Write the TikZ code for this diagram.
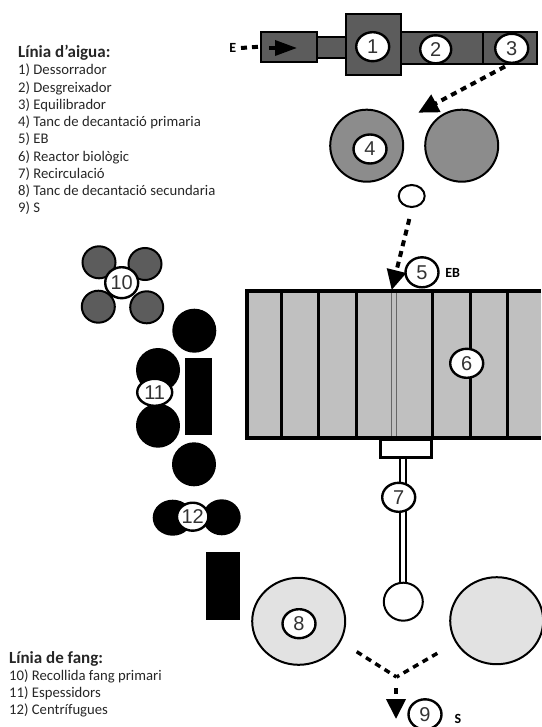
\documentclass[tikz,border=0pt]{standalone}
\usepackage{fontspec}
\setmainfont{Carlito}
\newfontfamily\numfont{Liberation Sans}
\usetikzlibrary{shapes.geometric,arrows.meta}
\definecolor{darkbox}{HTML}{5C5C5C}
\definecolor{midtank}{HTML}{8C8C8C}
\definecolor{reactor}{HTML}{C0C0C0}
\definecolor{lighttank}{HTML}{E2E2E2}
\definecolor{numgray}{HTML}{333333}
\tikzset{
  blockbox/.style={draw=black,line width=2pt,fill=darkbox},
  tag/.style={ellipse,draw=black,line width=2.4pt,fill=white,inner sep=0pt,minimum width=33pt,minimum height=29pt,text=numgray,font=\numfont\fontsize{20}{20}\selectfont},
  tanktwo/.style={ellipse,draw=black,line width=2pt,fill=midtank,minimum width=73pt,minimum height=72pt,inner sep=0pt},
  tanklight/.style={ellipse,draw=black,line width=2pt,fill=lighttank,minimum width=93pt,minimum height=87pt,inner sep=0pt},
  sludge/.style={ellipse,draw=black,line width=2pt,fill=darkbox,minimum width=33pt,minimum height=32pt,inner sep=0pt},
  thick black/.style={circle,fill=black,minimum size=44pt,inner sep=0pt},
  flow/.style={line width=4pt,dash pattern=on 6pt off 5pt,-{Triangle[length=20pt,width=19pt]}},
  flowplain/.style={line width=3.5pt,dash pattern=on 6pt off 5pt},
  divider/.style={line width=3pt,draw=black},
  legend/.style={anchor=north west,align=left,inner sep=0pt,font=\fontsize{14.7}{17.25}\selectfont,text=black!85},
  flowlabel/.style={font=\bfseries\fontsize{14}{14}\selectfont}
}
\begin{document}
\begin{tikzpicture}[x=1pt,y=-1pt]
\useasboundingbox (0,0) rectangle (541,727);
% legends
\node[legend] (legwater) at (18,45) {{\bfseries\fontsize{17}{17.25}\selectfont Línia d'aigua:}\\
1) Dessorrador\\2) Desgreixador\\3) Equilibrador\\4) Tanc de decantació primaria\\5) EB\\6) Reactor biològic\\7) Recirculació\\8) Tanc de decantació secundaria\\9) S};
\node[legend] (legsludge) at (9,651) {{\bfseries\fontsize{17}{17.25}\selectfont Línia de fang:}\\
10) Recollida fang primari\\11) Espessidors\\12) Centrífugues};
% pretreatment line
\node[blockbox,minimum width=56.5pt,minimum height=30pt,inner sep=0pt] (inlet) at (289,46.7) {};
\node[blockbox,minimum width=29pt,minimum height=20.5pt,inner sep=0pt] (neck) at (331.7,47.7) {};
\node[blockbox,minimum width=82pt,minimum height=32.3pt,inner sep=0pt] (b2) at (442,47.8) {};
\node[blockbox,minimum width=54pt,minimum height=31.7pt,inner sep=0pt] (b3) at (510,47.8) {};
\node[blockbox,minimum width=55pt,minimum height=60.7pt,inner sep=0pt] (b1) at (373.5,44.6) {};
\node[tag] (n1) at (372.7,46.7) {1};
\node[tag,minimum width=31pt,minimum height=28pt] (n2) at (435.7,49.3) {2};
\node[tag] (n3) at (511.7,48.3) {3};
\node[flowlabel,inner sep=0pt] (e) at (232.7,48) {E};
\coordinate (inletedge) at (inlet.west);
\draw[flowplain,line width=4pt] (241,48) -- (inletedge);
\coordinate (innerA) at (269,48);
\coordinate (innerB) at (297,48);
\draw[line width=3.5pt,-{Triangle[length=22pt,width=15pt]}] (innerA) -- (innerB);
% primary settlers
\node[tanktwo] (t4) at (366.7,145.7) {};
\node[tanktwo] (t4b) at (461.7,145.7) {};
\node[tag] (n4) at (370,149) {4};
\node[ellipse,draw=black,line width=2pt,fill=white,minimum width=26pt,minimum height=22pt,inner sep=0pt] (dist) at (411.7,196) {};
\coordinate (a3) at (505,66.5);
\coordinate (a3tip) at (418.3,112.7);
\draw[flow] (a3) -- (a3tip);
% reactor
\coordinate (rtip) at (391.7,290);
\coordinate (dstart) at (409.3,219);
\node[draw=black,line width=3pt,fill=white,minimum width=51pt,minimum height=17.5pt,inner sep=0pt,anchor=north] (trough) at (405.5,438) {};
\fill[reactor] (247,291) rectangle (541,437.5);
\foreach \x in {281.7,318.7,356.7,432.3,470.3,507.7}{\draw[divider] (\x,291) -- (\x,438);}
\draw[line width=1.5pt,draw=black!60] (391.7,291) -- (391.7,438) (396.7,291) -- (396.7,438);
\draw[line width=4pt,draw=black] (541,291) -- (247,291) -- (247,437.5) -- (541,437.5);
\draw[flow] (dstart) -- (rtip);
\node[tag,minimum height=30pt] (n5) at (422,272.3) {5};
\node[flowlabel,inner sep=0pt] (lbEB) at (452.7,272.7) {EB};
\node[tag] (n6) at (466.7,363.3) {6};
% recirculation pipe
\draw[line width=2pt] (400.3,457) -- (400.3,583);
\draw[line width=2pt] (406.3,457) -- (406.3,583);
\node[ellipse,draw=black,line width=2pt,fill=white,minimum width=39pt,minimum height=38pt,inner sep=0pt] (clar) at (403.3,601.7) {};
\node[tag] (n7) at (398.7,497.3) {7};
% secondary settlers
\node[tanklight] (t8) at (298.7,621.3) {};
\node[tanklight] (t8b) at (496.7,620.7) {};
\node[tag] (n8) at (299,623.7) {8};
% outlet
\coordinate (left) at (356.7,651.7);
\coordinate (right) at (437.3,653.3);
\coordinate (join) at (396.5,677);
\coordinate (down) at (396,688);
\coordinate (tip) at (396,719);
\draw[flowplain] (left) -- (join);
\draw[flowplain] (right) -- (join);
\draw[flow] (down) -- (tip);
\node[tag,minimum height=30pt] (n9) at (425,714.3) {9};
\node[flowlabel,inner sep=0pt] (lbS) at (458,718.7) {S};
% sludge line
\node[sludge] (s1) at (99,262.3) {};
\node[sludge] (s2) at (145,264) {};
\node[sludge] (s3) at (98.3,306.7) {};
\node[sludge] (s4) at (146.7,307.3) {};
\node[tag,minimum height=31pt] (n10) at (121.7,282.7) {10};
\node[thick black] (c1) at (194.3,330.7) {};
\node[thick black] (c2) at (158,370) {};
\node[thick black] (c3) at (158,425.7) {};
\node[thick black] (c4) at (194,464.3) {};
\node[fill=black,minimum width=27pt,minimum height=77.6pt,inner sep=0pt] (rect11) at (198.2,396.5) {};
\node[tag,minimum width=35pt,minimum height=27pt] (n11) at (154.7,392.3) {11};
\node[ellipse,fill=black,minimum width=40pt,minimum height=36pt,inner sep=0pt] (d1) at (172.7,517.7) {};
\node[ellipse,fill=black,minimum width=38pt,minimum height=36pt,inner sep=0pt] (d2) at (221.7,517.3) {};
\node[tag,minimum width=31pt,minimum height=28pt] (n12) at (192.7,516.7) {12};
\node[fill=black,minimum width=34.3pt,minimum height=67.7pt,inner sep=0pt] (rect12) at (223.2,586.2) {};
\end{tikzpicture}
\end{document}
